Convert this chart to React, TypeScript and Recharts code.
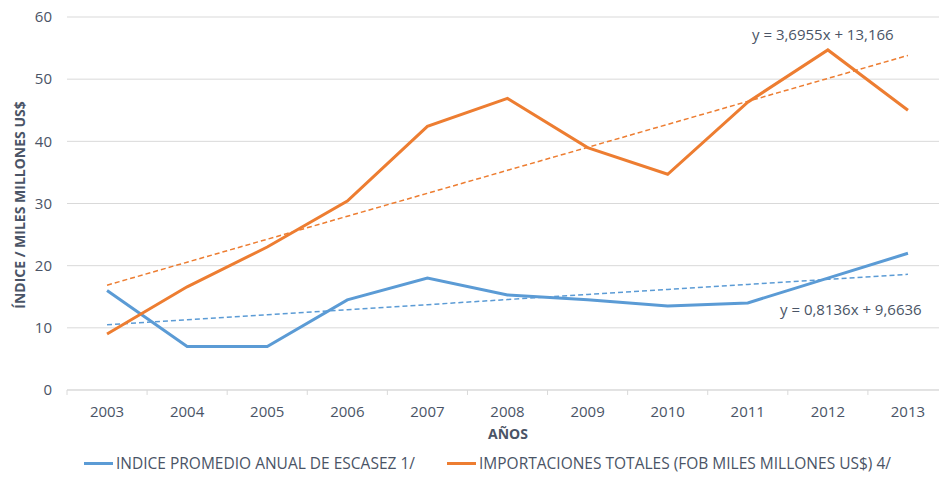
import { LineChart, Line, XAxis, YAxis, CartesianGrid, Legend, ReferenceLine } from "recharts";

const YEARS = [2003, 2004, 2005, 2006, 2007, 2008, 2009, 2010, 2011, 2012, 2013];
const ESCASEZ = [16, 7, 7, 14.5, 18, 15.3, 14.5, 13.5, 14, 18, 22];
const IMPORTACIONES = [9, 16.6, 23, 30.4, 42.4, 46.9, 39, 34.7, 46.3, 54.7, 45];
// trend lines as printed on the chart (y = 0,8136x + 9,6636 and y = 3,6955x + 13,166)
const TREND_ESCASEZ = [10.48, 11.29, 12.1, 12.92, 13.73, 14.55, 15.36, 16.17, 16.99, 17.8, 18.61];
const TREND_IMPORT = [16.86, 20.56, 24.25, 27.95, 31.64, 35.34, 39.03, 42.73, 46.43, 50.12, 53.82];
const BOUNDARIES = [2002.5, 2003.5, 2004.5, 2005.5, 2006.5, 2007.5, 2008.5, 2009.5, 2010.5, 2011.5, 2012.5];
const Y_TICKS = [0, 10, 20, 30, 40, 50, 60];

const BLUE = "#5B9BD5";
const ORANGE = "#ED7D31";
const TEXT = "#4a5466";
const FONT = "'Open Sans', sans-serif";

const data = YEARS.map((year, i) => ({
  year,
  escasez: ESCASEZ[i],
  importaciones: IMPORTACIONES[i],
  trendEscasez: TREND_ESCASEZ[i],
  trendImport: TREND_IMPORT[i],
}));

function LegendContent() {
  const item = (color: string, label: string, left: number) => (
    <div style={{ position: "absolute", left, top: 0, display: "flex", alignItems: "center", height: 30 }}>
      <span style={{ display: "inline-block", width: 29, height: 3, background: color, marginRight: 3 }} />
      <span style={{ fontSize: 15.5, color: TEXT, fontFamily: FONT, whiteSpace: "nowrap" }}>{label}</span>
    </div>
  );
  return (
    <div style={{ position: "relative", height: 30, width: 939 }}>
      {item(BLUE, "INDICE PROMEDIO ANUAL DE ESCASEZ 1/", 84)}
      {item(ORANGE, "IMPORTACIONES TOTALES (FOB MILES MILLONES US$) 4/", 447)}
    </div>
  );
}

export default function App() {
  return (
    <div style={{ position: "fixed", left: 0, top: 0, width: 939, height: 478, overflow: "hidden", background: "#fff" }}>
      <LineChart width={960} height={478} data={data} margin={{ top: 17, right: 12, bottom: 0, left: 0 }}>
        <CartesianGrid vertical={false} stroke="#d9d9d9" />
        <XAxis
          dataKey="year"
          type="number"
          domain={[2002.5, 2013.5]}
          ticks={YEARS}
          tickLine={false}
          axisLine={{ stroke: "#d9d9d9" }}
          height={58}
          tickMargin={10}
          tick={{ fill: TEXT, fontSize: 15, fontFamily: FONT }}
        />
        <YAxis
          domain={[0, 60]}
          ticks={Y_TICKS}
          width={67}
          tickLine={false}
          axisLine={false}
          tickMargin={9}
          tick={{ fill: TEXT, fontSize: 15, fontFamily: FONT }}
        />
        {BOUNDARIES.map((b) => (
          <ReferenceLine
            key={b}
            segment={[{ x: b, y: 0 }, { x: b, y: -0.8 }]}
            stroke="#d9d9d9"
            ifOverflow="visible"
          />
        ))}
        <Line dataKey="trendEscasez" stroke={BLUE} strokeWidth={1.5} strokeDasharray="5 3" dot={false} isAnimationActive={false} />
        <Line dataKey="trendImport" stroke={ORANGE} strokeWidth={1.5} strokeDasharray="5 3" dot={false} isAnimationActive={false} />
        <Line dataKey="escasez" stroke={BLUE} strokeWidth={3} dot={false} isAnimationActive={false} />
        <Line dataKey="importaciones" stroke={ORANGE} strokeWidth={3} dot={false} isAnimationActive={false} />
        <Legend verticalAlign="bottom" content={<LegendContent />} wrapperStyle={{ left: 0, width: 939, height: 30 }} />
      </LineChart>
      <div style={{ position: "absolute", left: 508, top: 424, transform: "translateX(-50%)", fontFamily: FONT, fontWeight: 700, fontSize: 14, color: TEXT }}>
        AÑOS
      </div>
      <div
        style={{
          position: "absolute",
          left: 19,
          top: 205,
          transform: "translate(-50%, -50%) rotate(-90deg)",
          fontFamily: FONT,
          fontWeight: 700,
          fontSize: 14,
          color: TEXT,
          whiteSpace: "nowrap",
        }}
      >
        ÍNDICE / MILES MILLONES US$
      </div>
      <div style={{ position: "absolute", left: 752, top: 24, fontFamily: FONT, fontSize: 15, color: TEXT, whiteSpace: "nowrap" }}>
        y = 3,6955x + 13,166
      </div>
      <div style={{ position: "absolute", left: 780, top: 299, fontFamily: FONT, fontSize: 15, color: TEXT, whiteSpace: "nowrap" }}>
        y = 0,8136x + 9,6636
      </div>
    </div>
  );
}
